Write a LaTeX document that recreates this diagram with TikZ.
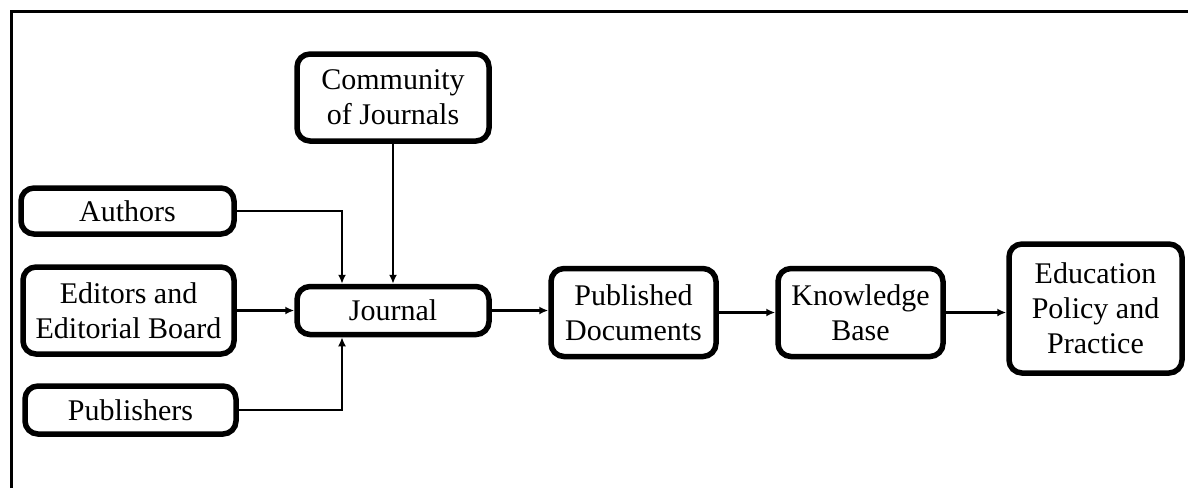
\documentclass[tikz,border=0pt]{standalone}
\usepackage{fontspec}
\setmainfont{Liberation Serif}
\usetikzlibrary{arrows.meta}
\begin{document}
\begin{tikzpicture}[x=1pt,y=-1pt,
  box/.style={draw, line width=5.5pt, rounded corners=13pt, align=center,
    inner sep=0pt, font=\fontsize{30}{35}\selectfont},
  arr/.style={line width=2.5pt, -{Latex[length=9pt,width=8pt]}},
  frame/.style={line width=3pt}]
\useasboundingbox (0,0) rectangle (1188,488);
\draw[frame] (11,488) -- (11,11) -- (1188,11);
\node[box, minimum width=192pt, minimum height=87pt] (comm) at (393,97.5) {Community\\of Journals};
\node[box, minimum width=213pt, minimum height=46pt] (auth) at (127.5,211) {Authors};
\node[box, minimum width=211pt, minimum height=87pt] (edit) at (128.5,310.5) {Editors and\\Editorial Board};
\node[box, minimum width=211pt, minimum height=48pt] (pub) at (130.5,410) {Publishers};
\node[box, minimum width=192pt, minimum height=48pt] (jour) at (393,310.5) {Journal};
\node[box, minimum width=165pt, minimum height=88pt] (pd) at (633.5,312.5) {Published\\Documents};
\node[box, minimum width=165pt, minimum height=88pt] (kb) at (860.5,312.5) {Knowledge\\Base};
\node[box, minimum width=173pt, minimum height=129pt] (edu) at (1095.5,308.5) {Education\\Policy and\\Practice};
\draw[arr] (comm.south) -- (jour.north);
\draw[arr] (auth.east) -| ([xshift=-51pt]jour.north);
\draw[arr] (pub.east) -| ([xshift=-51pt]jour.south);
\draw[arr] (edit.east) -- (edit.east -| jour.west);
\draw[arr] (jour.east) -- (jour.east -| pd.west);
\draw[arr] (pd.east) -- (kb.west);
\draw[arr] (kb.east) -- (kb.east -| edu.west);
\end{tikzpicture}
\end{document}
